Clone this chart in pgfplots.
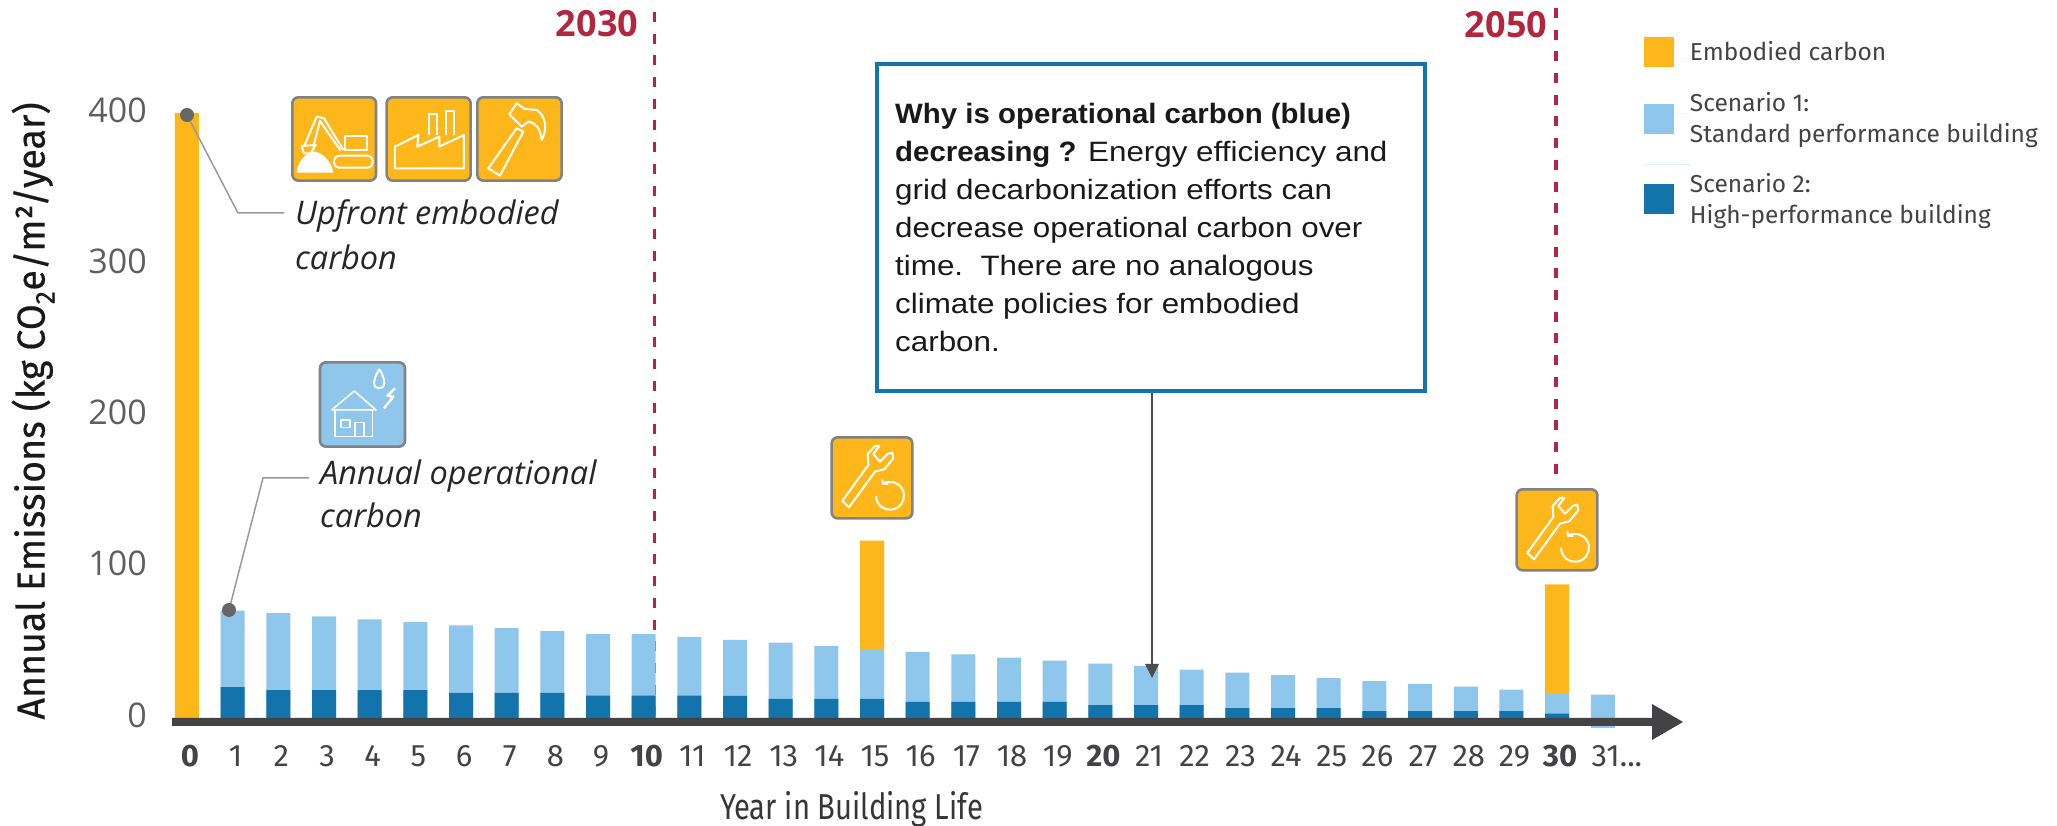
\documentclass[border=0pt]{standalone}
\usepackage{fontspec}
\usepackage{pgfplots}
\pgfplotsset{compat=1.18}
\setmainfont{Open Sans}
\newfontfamily\boxf[FakeStretch=1.12,BoldFeatures={FakeStretch=1.05}]{Liberation Sans}
\newfontfamily\labf{Fira Sans}
\newfontfamily\ylf[FakeStretch=0.965,FakeBold=0.4]{Fira Sans}
\newfontfamily\xlf[FakeStretch=0.81]{Fira Sans}
\definecolor{emb}{HTML}{FDB71A}
\definecolor{lite}{HTML}{8EC7EB}
\definecolor{deep}{HTML}{1274AA}
\definecolor{redl}{HTML}{B2263E}
\definecolor{axg}{HTML}{434345}
\definecolor{icb}{HTML}{7F8287}
\newcommand\fs[2]{\fontsize{#1}{#2}\selectfont}
\newcommand\legtext[2]{\raisebox{#1}[0pt][0pt]{\begin{tabular}[t]{@{}l@{}}#2\end{tabular}}}
\newcommand\wrench[2]{%
\begin{scope}[shift={(#1,#2)},x=0.3333pt,y=-0.3333pt]
\draw[icb,fill=emb,line width=2.6pt,rounded corners=6pt] (20,22) rectangle (262,265);
\draw[white,line width=2pt,line join=round] (52,213)--(130,105)--(128,72)--(150,48)--(163,48)--(145,72)--(165,95)--(188,72)--(202,68)--(205,85)--(178,118)--(150,125)--(72,232)--cycle;
\draw[white,line width=2pt] (174,161) arc[start angle=240,end angle=540,radius=42];
\draw[white,line width=2pt] (172,148)--(174,161)--(190,162);
\end{scope}}
\begin{document}
\begin{tikzpicture}
\path[use as bounding box] (0pt,0pt) rectangle (2057pt,826pt);
% year lines, under the bars
\begin{scope}[yshift=826pt,x=1pt,y=-1pt]
\draw[redl,line width=3.4pt,dash pattern=on 10pt off 11.7pt] (654.5,12)--(654.5,718);
\draw[redl,line width=3.4pt,dash pattern=on 10pt off 11.7pt] (1556,8)--(1556,484);
\end{scope}
\begin{axis}[
  at={(150pt,98pt)},anchor=south west,
  scale only axis,width=1540pt,height=718pt,
  xmin=-0.81,xmax=32.91,ymin=-6.6,ymax=468.1,
  clip=false,
  axis line style={draw=none},
  axis x line=bottom,axis y line=left,
  major tick length=0pt,
  xtick={0,...,31},
  xticklabels={\textbf{0},1,2,3,4,5,6,7,8,9,\textbf{10},11,12,13,14,15,16,17,18,19,\textbf{20},21,22,23,24,25,26,27,28,29,\textbf{30},31\rlap{\fs{31}{36}...}},
  xticklabel style={font=\labf\fs{31}{36},text=axg,anchor=base,yshift=-38.5pt,xshift=3pt},
  x tick label as interval=false,
  ytick={0,100,200,300,400},
  /pgf/number format/assume math mode=true,
  yticklabel style={font=\fs{34}{40},text=axg!85,anchor=east,yshift=3pt,xshift=-3pt},
  tick label style={inner sep=0pt},
  xlabel={\xlf\fs{36}{40}Year in Building Life},
  xlabel style={at={(axis cs:14.55,-60.5)},anchor=center,text=axg!80!black},
  ylabel={\ylf\fs{39}{44}Annual Emissions (kg CO\textsubscript{2}e/m²/year)},
  ylabel style={at={(axis cs:-3.37,203)},anchor=center,text=black!90},
  legend style={at={(0.97013,0.9297)},anchor=north west,draw=none,fill=none,inner sep=0pt,outer sep=0pt,
     font=\labf\fs{24.5}{31},text=axg,row sep=50pt,nodes={inner sep=0pt}},
  legend cell align=left,
]
\addplot[ybar,bar width=24pt,fill=emb,draw=none,
  legend image code/.code={\path (0pt,0pt) rectangle (46pt,0pt);\fill[overlay,emb] (0pt,-5.8pt) rectangle (30pt,24.2pt);}] coordinates {(0,400) (15,117.2) (30,88.3)};
\addlegendentry{\legtext{0pt}{Embodied carbon}}
\addplot[ybar,bar width=24pt,fill=lite,draw=none,
  legend image code/.code={\path (0pt,0pt) rectangle (46pt,0pt);\fill[overlay,lite] (0pt,-21.6pt) rectangle (30pt,8.4pt);}] coordinates {
(1,71)(2,69.4)(3,67.2)(4,65.2)(5,63.4)(6,61.2)(7,59.5)(8,57.5)(9,55.5)(10,55.5)
(11,53.7)(12,51.6)(13,49.8)(14,47.6)(15,45.4)(16,43.8)(17,42)(18,40)(19,38)(20,36)
(21,34.4)(22,32)(23,30)(24,28.4)(25,26.4)(26,24.4)(27,22.5)(28,20.7)(29,18.7)(30,16.5)
(31,15.4)(31,-6.6)};
\addlegendentry{\legtext{0pt}{Scenario 1:\\Standard performance building}}
\addplot[ybar,bar width=24pt,fill=deep,draw=none,
  legend image code/.code={\path (0pt,0pt) rectangle (46pt,0pt);\fill[overlay,deep] (0pt,-49.3pt) rectangle (30pt,-19.3pt);}] coordinates {
(1,20.5)(2,18.5)(3,18.5)(4,18.5)(5,18.5)(6,16.7)(7,16.7)(8,16.7)(9,14.8)(10,14.8)
(11,14.8)(12,14.6)(13,12.6)(14,12.6)(15,12.6)(16,10.6)(17,10.6)(18,10.6)(19,10.6)(20,8.6)
(21,8.6)(22,8.6)(23,6.6)(24,6.6)(25,6.6)(26,4.6)(27,4.6)(28,4.6)(29,4.6)(30,2.9)};
\addlegendentry{\legtext{-29pt}{Scenario 2:\\High-performance building}}
\end{axis}
\begin{scope}[yshift=826pt,x=1pt,y=-1pt]
% axis arrow
\fill[axg] (172,718)--(1652,718)--(1652,704)--(1683,722)--(1652,740)--(1652,726)--(172,726)--cycle;
% year labels
\node[redl,font=\bfseries\fs{36}{40}] at (597,24) {2030};
\node[redl,font=\bfseries\fs{36}{40}] at (1506,25) {2050};
% leader lines
\draw[black!40,line width=1.5pt] (187,115)--(238,213)--(284,213);
\fill[black!60] (187,115) circle (7);
\draw[black!40,line width=1.5pt] (229,610)--(263,478)--(309,478);
\fill[black!60] (229,610) circle (7);
\begin{scope}[every node/.style={anchor=west,inner sep=0pt,font=\itshape\fs{32.5}{38},text=black!85}]
\node at (295,216) {Upfront embodied};
\node at (295,257) {carbon};
\node at (320,476) {Annual operational};
\node at (320,515) {carbon};
\end{scope}
% text box
\draw[black!70,line width=1.2pt] (1152,392)--(1152,668);
\fill[black!70] (1145,664)--(1159,664)--(1152,678)--cycle;
\draw[deep,line width=3.2pt,fill=white] (877,64) rectangle (1425,391);
\node[anchor=north west,inner sep=0pt,align=left,font=\boxf\fs{28}{38},text=black!90] at (895,103)
{\textbf{Why is operational carbon (blue)}\\\textbf{decreasing ?} Energy efficiency and\\grid decarbonization efforts can\\decrease operational carbon over\\time.\ \ There are no analogous\\climate policies for embodied\\carbon.};
% excavator, factory, hammer
\begin{scope}[shift={(280,85)},x=0.3333pt,y=-0.3333pt]
\foreach \a/\b in {37/288,320/572,592/845}{\draw[icb,fill=emb,line width=2.6pt,rounded corners=6pt] (\a,37) rectangle (\b,287);}
\begin{scope}[white,line width=2pt,line join=round]
\draw (195,153) rectangle (262,195);
\draw[rounded corners=5pt] (162,212) rectangle (278,248);
\draw (190,195)--(132,100)--(110,95)--(72,185);
\draw (182,197)--(120,108)--(100,185);
\draw (65,183)--(107,180)--(92,205)--(72,205)--cycle;
\fill (50,263) .. controls (55,220) and (85,200) .. (105,200) .. controls (130,205) and (155,230) .. (160,263) -- cycle;
\draw (345,185)--(415,150)--(412,185)--(478,155)--(478,185)--(552,150)--(552,250)--(345,250)--cycle;
\draw (447,150)--(447,88)--(470,88)--(470,150);
\draw (498,150)--(498,78)--(523,78)--(523,150);
\draw (625,250)--(710,130)--(730,140)--(660,272)--cycle;
\draw (688,88)--(710,55)--(735,72)--(770,75) .. controls (795,90) and (805,130) .. (785,165) .. controls (780,130) and (770,115) .. (745,110)--(725,125)--cycle;
\end{scope}
\end{scope}
% house
\begin{scope}[shift={(310,355)},x=0.3333pt,y=-0.3333pt]
\draw[icb,fill=lite,line width=2.6pt,rounded corners=6pt] (30,22) rectangle (285,275);
\begin{scope}[white,line width=1.5pt,line join=round]
\draw (65,165)--(133,108)--(198,165)--cycle;
\draw (75,165)--(75,245)--(188,245)--(188,165);
\draw (93,195) rectangle (120,218);
\draw (135,245)--(135,203)--(162,203)--(162,245);
\draw[line width=2pt] (208,42) .. controls (185,80) and (190,100) .. (207,100) .. controls (226,100) and (230,80) .. (208,42);
\draw[line width=2.4pt] (255,100)--(232,122)--(250,125)--(222,160);
\end{scope}
\end{scope}
\wrench{825}{430}
\wrench{1510}{482}
\end{scope}
\end{tikzpicture}
\end{document}
